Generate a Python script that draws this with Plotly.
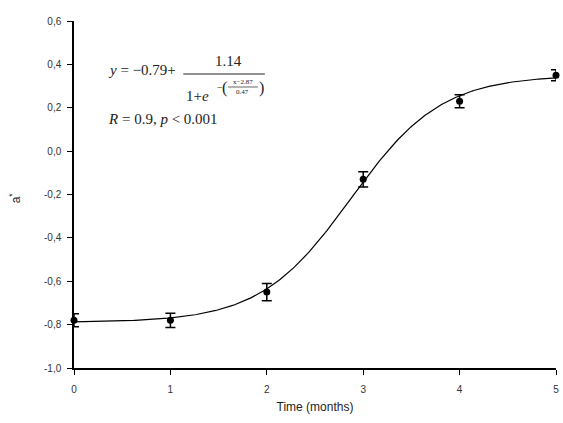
import numpy as np
import plotly.graph_objects as go

# Measured colour parameter a* over storage time
months = [0, 1, 2, 3, 4, 5]
a_star = [-0.78, -0.78, -0.65, -0.13, 0.23, 0.35]
a_err = [0.03, 0.033, 0.04, 0.035, 0.03, 0.025]

# Sigmoid fit: y = y0 + a / (1 + exp(-(x - x0) / b))
y0, amp, x0, slope = -0.79, 1.14, 2.87, 0.47

y_ticks = [-1.0, -0.8, -0.6, -0.4, -0.2, 0.0, 0.2, 0.4, 0.6]
y_tick_text = ["-1,0", "-0,8", "-0,6", "-0,4", "-0,2", "0,0", "0,2", "0,4", "0,6"]
x_ticks = [0, 1, 2, 3, 4, 5]

xf = np.linspace(0, 5, 300)
yf = y0 + amp / (1 + np.exp(-(xf - x0) / slope))

fig = go.Figure()
fig.add_trace(go.Scatter(
    x=xf, y=yf, mode="lines",
    line=dict(color="black", width=1.2),
    hoverinfo="skip", showlegend=False,
))
fig.add_trace(go.Scatter(
    x=months, y=a_star, mode="markers",
    marker=dict(color="black", size=7, symbol="circle"),
    error_y=dict(type="data", array=a_err, color="black", thickness=1.5, width=5),
    cliponaxis=False, showlegend=False,
))

axis_font = dict(family="Liberation Sans, Arial", size=10, color="#333")

fig.update_layout(
    width=563, height=423,
    margin=dict(l=74, r=4, t=21, b=55),
    plot_bgcolor="white", paper_bgcolor="white",
    xaxis=dict(
        range=[0, 5], tickvals=x_ticks, ticks="outside", ticklen=5,
        tickcolor="black", showline=True, linecolor="black", linewidth=1.5,
        showgrid=False, zeroline=False, tickfont=axis_font,
        ticklabelstandoff=6,
        title=dict(text="Time (months)", font=dict(family="Liberation Sans, Arial", size=12, color="#222"), standoff=9),
    ),
    yaxis=dict(
        range=[-1.0, 0.6], tickvals=y_ticks, ticktext=y_tick_text, ticks="outside",
        ticklen=5, tickcolor="black", showline=True, linecolor="black", linewidth=1.5,
        showgrid=False, zeroline=False, tickfont=axis_font, ticklabelstandoff=4,
    ),
)

# y-axis label
fig.add_annotation(
    text="a<sup>*</sup>", xref="paper", yref="paper",
    x=(15 - 74) / 485, y=(368 - 198) / 347, textangle=-90,
    showarrow=False, xanchor="center", yanchor="middle",
    font=dict(family="Liberation Sans, Arial", size=12, color="#222"),
)

# Fitted equation, drawn as a stacked fraction
serif = "Liberation Serif, Times New Roman"


def px(xp):
    return (xp - 74) / 485


def py(yp):
    return (368 - yp) / 347


def note(text, xp, yp, size=15, xanchor="left"):
    fig.add_annotation(
        text=text, xref="paper", yref="paper", x=px(xp), y=py(yp),
        showarrow=False, xanchor=xanchor, yanchor="middle",
        font=dict(family=serif, size=size, color="#222"),
    )


note("<i>y</i> = \u22120.79+", 106, 70)
note(str(amp), 229, 61, xanchor="center")
fig.add_shape(type="line", xref="paper", yref="paper",
              x0=px(184), x1=px(266), y0=py(74), y1=py(74),
              line=dict(color="#222", width=1))
note("1+<i>e</i>", 185, 96)
note("\u2212", 216, 87, size=10)
note("(", 221, 88, size=16)
note(f"x\u2212{x0}", 244, 82, size=7, xanchor="center")
fig.add_shape(type="line", xref="paper", yref="paper",
              x0=px(229), x1=px(259), y0=py(87), y1=py(87),
              line=dict(color="#222", width=0.7))
note(f"{slope}", 244, 92, size=7, xanchor="center")
note(")", 258, 88, size=16)
note("<i>R</i> = 0.9, <i>p</i> &lt; 0.001", 106, 119)

fig.write_html("out.html")
